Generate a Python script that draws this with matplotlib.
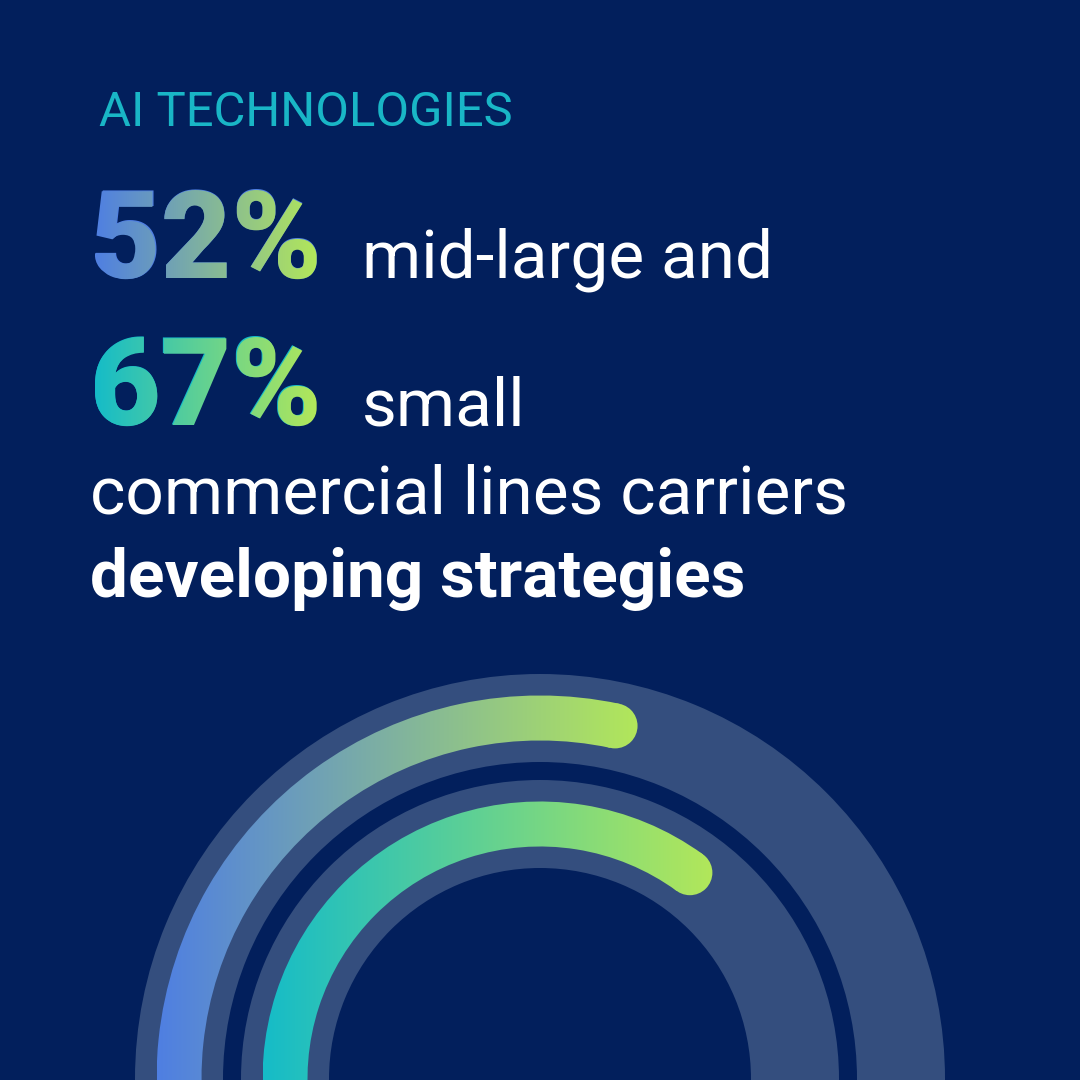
import numpy as np
import matplotlib
matplotlib.use('Agg')
import matplotlib.pyplot as plt
from matplotlib.patches import Wedge, Circle, PathPatch
from matplotlib.textpath import TextPath
from matplotlib.font_manager import FontProperties
from matplotlib.transforms import Affine2D
from matplotlib.colors import LinearSegmentedColormap

# data
title = 'AI TECHNOLOGIES'
shares = [52, 67]
share_labels = ['52%', '67%']
share_groups = ['mid-large and', 'small']
caption = 'commercial lines carriers'
caption_bold = 'developing strategies'
arc_sweep = [192, 216]  # degrees swept clockwise from the bottom of each ring

bg = '#021f5c'
track = '#344e7e'
white = '#ffffff'
teal = '#19b6c6'
grad_start = ['#4f7fe2', '#15bcc8']
grad_end = '#b2e75a'

fam = 'Roboto'
dpi = 100

fig = plt.figure(figsize=(10.8, 10.8), dpi=dpi, facecolor=bg)
ax = fig.add_axes([0, 0, 1, 1])
ax.set_xlim(0, 1080)
ax.set_ylim(1080, 0)
ax.axis('off')
ax.set_facecolor(bg)


def pt(px):
    return px * 72 / dpi


def gradient_fill(clip_patch, x0, x1, c0, c1):
    cmap = LinearSegmentedColormap.from_list('g', [c0, c1])
    grad = np.linspace(0, 1, 256).reshape(1, -1)
    im = ax.imshow(grad, cmap=cmap, extent=(x0, x1, 1200, 0), aspect='auto',
                   interpolation='bilinear', zorder=3)
    im.set_clip_path(clip_patch)


def gradient_text(x, y, s, em_px, c0, c1, weight):
    prop = FontProperties(family=fam, weight=weight)
    # real text underneath
    ax.text(x, y, s, fontsize=pt(em_px), fontproperties=prop, color=c0,
            va='baseline', ha='left', zorder=2)
    tp = TextPath((0, 0), s, size=em_px, prop=prop)
    tr = Affine2D().scale(1, -1).translate(x, y) + ax.transData
    patch = PathPatch(tp, transform=tr, facecolor='none', edgecolor='none')
    ax.add_patch(patch)
    ext = tp.get_extents()
    gradient_fill(patch, x + ext.x0, x + ext.x1, c0, c1)


# rings
cx, cy = 540, 1079
ring_mid = [361, 255]
track_w = 88
bar_w = 45
for rm in ring_mid:
    ax.add_patch(Wedge((cx, cy), rm + track_w / 2, 0, 360, width=track_w,
                       facecolor=track, edgecolor='none', zorder=1))

for i, rm in enumerate(ring_mid):
    t1 = 90
    t2 = 90 + arc_sweep[i]
    w = Wedge((cx, cy), rm + bar_w / 2, t1, t2, width=bar_w,
              facecolor='none', edgecolor='none')
    ax.add_patch(w)
    x0 = cx - rm - bar_w / 2
    ex = cx + rm * np.cos(np.radians(t2))
    ey = cy + rm * np.sin(np.radians(t2))
    x1 = ex + bar_w / 2
    gradient_fill(w, x0, x1, grad_start[i], grad_end)
    cap = Circle((ex, ey), bar_w / 2, facecolor='none', edgecolor='none')
    ax.add_patch(cap)
    gradient_fill(cap, x0, x1, grad_start[i], grad_end)

# texts
ax.text(99, 126, title, fontsize=pt(49), family=fam, color=teal,
        va='baseline', ha='left', zorder=4)

big_y = [278, 425]
for i in range(2):
    gradient_text(90, big_y[i], share_labels[i], 122, grad_start[i], grad_end, 'black')
    ax.text(362, big_y[i], share_groups[i], fontsize=pt(67.5), family=fam,
            color=white, va='baseline', ha='left', zorder=4)

ax.text(90, 513, caption, fontsize=pt(67.5), family=fam, color=white,
        va='baseline', ha='left', zorder=4)
ax.text(90, 597, caption_bold, fontsize=pt(67.5), family=fam, weight='bold',
        color=white, va='baseline', ha='left', zorder=4)

fig.savefig('out.png', dpi=dpi, facecolor=bg)
